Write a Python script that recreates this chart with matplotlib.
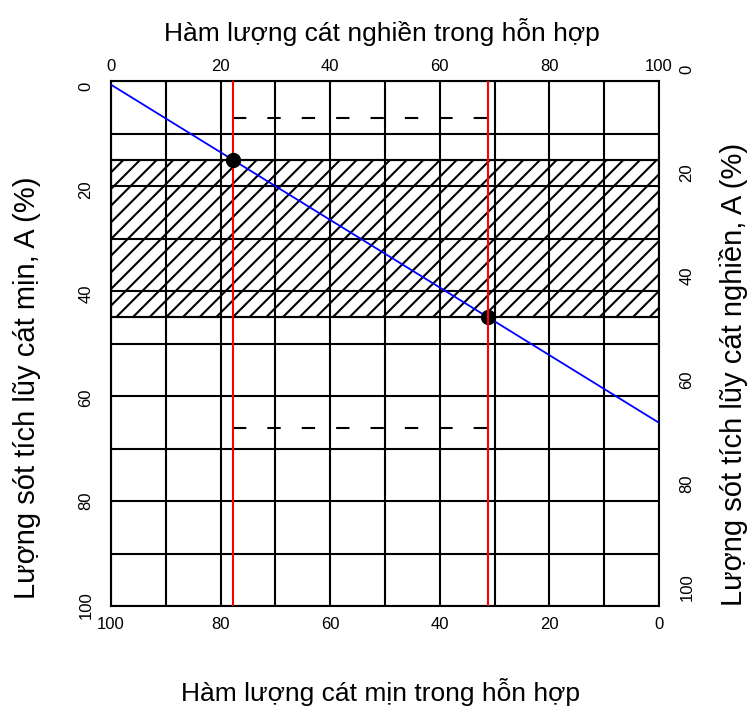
import matplotlib
matplotlib.use("Agg")
import matplotlib.pyplot as plt
from matplotlib.patches import Rectangle

plt.rcParams['font.family'] = ['Liberation Sans', 'DejaVu Sans']
plt.rcParams['hatch.linewidth'] = 1.5

# Grid of the nomogram (values on the top / left scales)
grid_x = [0, 10, 20, 30, 40, 50, 60, 70, 80, 90, 100]
grid_y = [0, 10, 15, 20, 30, 40, 45, 50, 60, 70, 80, 90, 100]

# Hatched band of allowed residue
band_lo = 15
band_hi = 45

# Mixing line and its crossings with the band
blue_x = [0, 100]
blue_y = [0.7, 65.1]
dot_x = [22.3, 68.8]
dot_y = [15, 45]

# Dashed limits between the two red lines
dash_y = [7.1, 66.0]

# Tick labels
top_ticks = [0, 20, 40, 60, 80, 100]
bottom_ticks = [100, 80, 60, 40, 20, 0]
left_ticks = [0, 20, 40, 60, 80, 100]
right_ticks = [0, 20, 40, 60, 80, 100]

title_top = "Hàm lượng cát nghiền trong hỗn hợp"
title_bottom = "Hàm lượng cát mịn trong hỗn hợp"
label_left = "Lượng sót tích lũy cát mịn, A (%)"
label_right = "Lượng sót tích lũy cát nghiền, A (%)"

W, H = 751, 713
fig = plt.figure(figsize=(W / 100, H / 100), dpi=100)

def rect(x0, y0, x1, y1):
    # pixel box -> figure fraction
    return [x0 / W, 1 - y1 / H, (x1 - x0) / W, (y1 - y0) / H]

ax = fig.add_axes(rect(111, 81, 659, 606))
ax.set_xlim(0, 100)
ax.set_ylim(100, 0)

# hatched band
ax.add_patch(Rectangle((0, band_lo), 100, band_hi - band_lo, fill=False,
                       hatch='//', edgecolor='black', lw=1.5, zorder=1))

# grid
for v in grid_x:
    ax.axvline(v, color='black', lw=1.5, zorder=2)
for v in grid_y:
    ax.axhline(v, color='black', lw=1.5, zorder=2)

ax.plot(blue_x, blue_y, color='blue', lw=1.3, zorder=3)
for y in dash_y:
    ax.plot([dot_x[0], dot_x[1]], [y, y], color='black', lw=1.5,
            ls=(0, (6.4, 10.1)), zorder=4)
ax.plot(dot_x, dot_y, 'o', color='black', ms=10, zorder=5)
# the second red line sits over its dot in the source
for x, z in zip(dot_x, [4, 6]):
    ax.axvline(x, color='red', lw=1.5, zorder=z)

for s in ax.spines.values():
    s.set_linewidth(1.5)

# top scale
ax.xaxis.tick_top()
ax.set_xticks(top_ticks)
ax.tick_params(axis='x', length=0, pad=5, labelsize=12)
ax.set_yticks([])

# bottom scale (reversed)
sec = ax.secondary_xaxis('bottom', functions=(lambda x: 100 - x, lambda x: 100 - x))
sec.set_xticks(bottom_ticks)
sec.tick_params(length=0, pad=8, labelsize=12)
sec.spines['bottom'].set_visible(False)

# left scale
ax_l = fig.add_axes(rect(111, 86, 659, 605))
ax_l.set_ylim(100, 0)
ax_l.set_yticks(left_ticks)
ax_l.set_xticks([])
ax_l.patch.set_visible(False)
for s in ax_l.spines.values():
    s.set_visible(False)
ax_l.tick_params(axis='y', length=0, pad=18, labelsize=12)
for t in ax_l.get_yticklabels():
    t.set_rotation(90)
    t.set_ha('center')
    t.set_va('center')

# right scale, drawn a bit higher as in the source
ax_r = fig.add_axes(rect(111, 69, 659, 587))
ax_r.set_ylim(100, 0)
ax_r.yaxis.tick_right()
ax_r.set_yticks(right_ticks)
ax_r.set_xticks([])
ax_r.patch.set_visible(False)
for s in ax_r.spines.values():
    s.set_visible(False)
ax_r.tick_params(axis='y', length=0, pad=20, labelsize=12)
for t in ax_r.get_yticklabels():
    t.set_rotation(90)
    t.set_ha('center')
    t.set_va('center')

fig.text(382 / W, 1 - 32 / H, title_top, ha='center', va='center', fontsize=19)
fig.text(381 / W, 1 - 692 / H, title_bottom, ha='center', va='center', fontsize=19)
fig.text(27 / W, 1 - 388 / H, label_left, ha='center', va='center', rotation=90, fontsize=21)
fig.text(733 / W, 1 - 374 / H, label_right, ha='center', va='center', rotation=90, fontsize=21)

fig.savefig("out.png", dpi=100)
